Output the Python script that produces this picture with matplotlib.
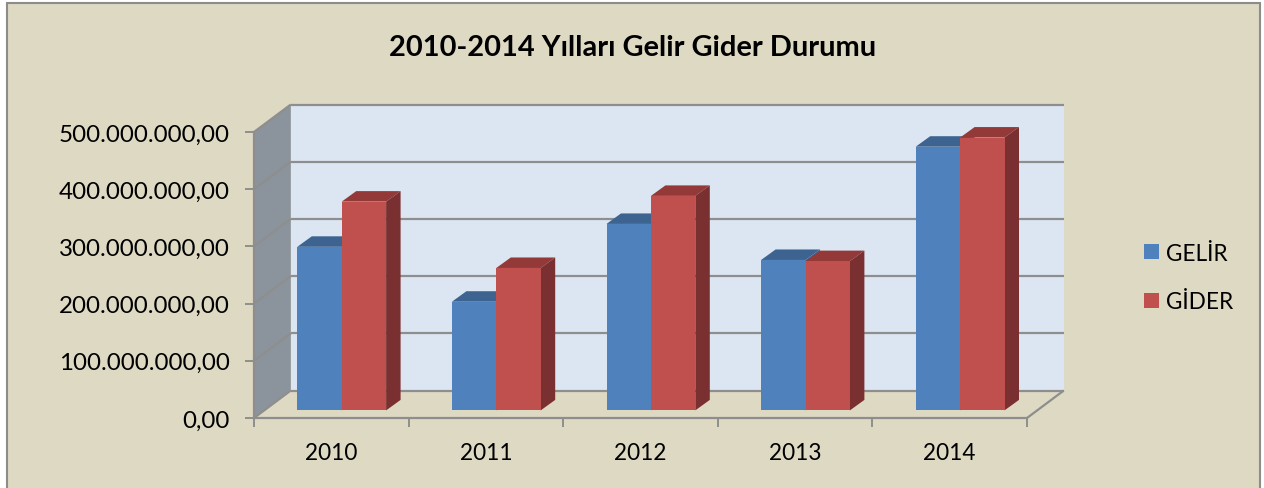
import matplotlib
matplotlib.use("Agg")
import matplotlib.pyplot as plt
from matplotlib.patches import Rectangle, Patch
from matplotlib.ticker import FuncFormatter

years = ["2010", "2011", "2012", "2013", "2014"]
gelir = [286e6, 190e6, 326e6, 263e6, 461e6]
gider = [365e6, 249e6, 375e6, 261e6, 477e6]
y_ticks = [0, 100e6, 200e6, 300e6, 400e6, 500e6]
title = "2010-2014 Yılları Gelir Gider Durumu"

BG = "#DDD9C3"
WALL = "#DCE6F2"
SIDE = "#8B949C"
GRID = "#8E8E8E"
BLUE, BLUE_TOP = "#4F81BD", "#3D6390"
RED, RED_TOP, RED_SIDE = "#C0504D", "#933A38", "#7A3030"

W, H = 1264, 489
plt.rcParams["font.family"] = ["Lato", "DejaVu Sans"]
fig = plt.figure(figsize=(W / 100, H / 100), dpi=100, facecolor="white")
fig.add_artist(Rectangle((7 / W, -0.02), 1253 / W, 1 - 4 / H + 0.02, transform=fig.transFigure,
                         fc=BG, ec="#8C8C8C", lw=1.5, zorder=-1))

L, R, TOP, BOT = 254, 1027, 133, 419
ax = fig.add_axes([L / W, 1 - BOT / H, (R - L) / W, (BOT - TOP) / H])
ax.set_xlim(0, 5)
ax.set_ylim(0, 500e6)
ax.patch.set_alpha(0)

# pixels to data units
px = 5 / (R - L)
py = 500e6 / (BOT - TOP)
back_x, back_y = 36.8 * px, 27.5 * py
base_x, base_y = 10.4 * px, 7.6 * py
deep_x, deep_y = 14.5 * px, 10.5 * py
bw = 44.4 * px


def poly(pts, color, z):
    xs, ys = zip(*pts)
    ax.fill(xs, ys, color=color, zorder=z, clip_on=False, lw=0)


def line(xs, ys, z=2, lw=1.6):
    ax.plot(xs, ys, color=GRID, lw=lw, zorder=z, clip_on=False, solid_capstyle="butt")


# walls
poly([(back_x, back_y), (5 + back_x, back_y), (5 + back_x, 500e6 + back_y), (back_x, 500e6 + back_y)], WALL, 1)
poly([(0, 0), (back_x, back_y), (back_x, 500e6 + back_y), (0, 500e6)], SIDE, 1)

# grid and floor
for t in y_ticks:
    line([back_x, 5 + back_x], [t + back_y] * 2)
    line([0, back_x], [t, t + back_y])
line([5, 5 + back_x], [0, back_y])

# bars
for i, (a, b) in enumerate(zip(gelir, gider)):
    for x0, v, top, side, z in ((i + 0.5 - bw + base_x, a, BLUE_TOP, BLUE_TOP, 3),
                                (i + 0.5 + base_x, b, RED_TOP, RED_SIDE, 5)):
        yb = base_y
        yt = base_y + v
        poly([(x0, yt), (x0 + bw, yt), (x0 + bw + deep_x, yt + deep_y), (x0 + deep_x, yt + deep_y)], top, z)
        poly([(x0 + bw, yb), (x0 + bw + deep_x, yb + deep_y), (x0 + bw + deep_x, yt + deep_y), (x0 + bw, yt)], side, z)
ax.bar([i + 0.5 - bw / 2 + base_x for i in range(5)], gelir, bw, bottom=base_y, color=BLUE, zorder=4, clip_on=False)
ax.bar([i + 0.5 + bw / 2 + base_x for i in range(5)], gider, bw, bottom=base_y, color=RED, zorder=6, clip_on=False)

# axes
for s in ("top", "right"):
    ax.spines[s].set_visible(False)
for s in ("left", "bottom"):
    ax.spines[s].set_color(GRID)
    ax.spines[s].set_linewidth(1.6)
    ax.spines[s].set_zorder(7)
ax.set_yticks(y_ticks)
ax.yaxis.set_major_formatter(FuncFormatter(lambda v, _: f"{v:,.2f}".replace(",", "X").replace(".", ",").replace("X", ".")))
ax.set_xticks(range(6))
ax.set_xticklabels([])
ax.tick_params(axis="both", which="major", color=GRID, width=1.4, length=6.5)
ax.tick_params(axis="y", labelsize=17.4, pad=11, labelcolor="black")
for i, y in enumerate(years):
    ax.annotate(y, (i + 0.5, 0), xytext=(0, -35), textcoords="offset pixels",
                ha="center", va="center", fontsize=16.3, annotation_clip=False)

fig.text(633 / W, 1 - 48.5 / H, title, ha="center", va="center", fontsize=20.9, fontweight="bold")

fig.legend(handles=[Patch(color=BLUE, lw=0, label="GELİR"), Patch(color=RED, lw=0, label="GİDER")],
           loc="center left", bbox_to_anchor=(1137 / W, 1 - 278.5 / H), frameon=False, fontsize=16.3,
           handlelength=0.66, handleheight=0.66, handletextpad=0.31, labelspacing=1.22,
           borderpad=0.3, borderaxespad=0)

fig.savefig("out.png", dpi=100, facecolor="white")
